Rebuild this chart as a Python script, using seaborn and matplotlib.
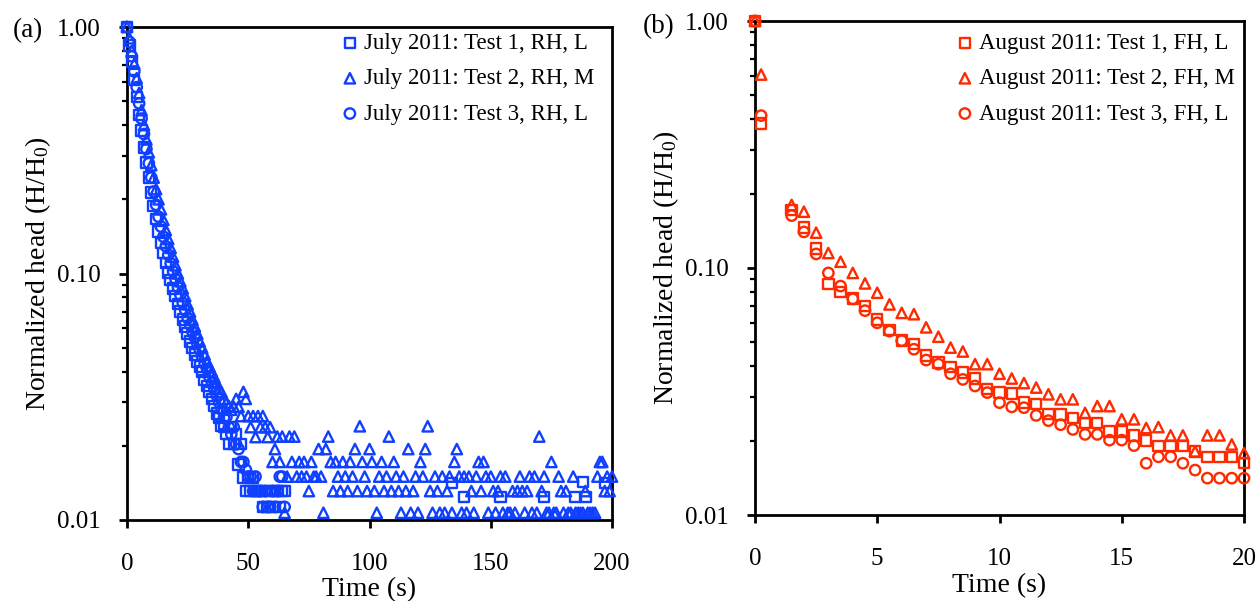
import numpy as np
import matplotlib
matplotlib.use("Agg")
import matplotlib.pyplot as plt
import seaborn as sns
from matplotlib.ticker import LogLocator, NullFormatter

sns.set_theme(style="ticks", rc={
    "axes.edgecolor": "black", "xtick.color": "black", "ytick.color": "black",
    "text.color": "black", "axes.labelcolor": "black",
})
plt.rcParams["font.family"] = ["Liberation Serif", "DejaVu Serif"]
plt.rcParams["mathtext.fontset"] = "custom"
plt.rcParams["mathtext.rm"] = "Liberation Serif"
plt.rcParams["mathtext.default"] = "regular"

BLUE = "#1040ff"
RED = "#ff2a00"

# ---------------- Panel (a): July 2011 ----------------
labels_a = ["July 2011: Test 1, RH, L", "July 2011: Test 2, RH, M", "July 2011: Test 3, RH, L"]

# Test 1 (squares), 1-s samples t = 0..65
a1_time = np.arange(0, 66)
a1_head = [1.000, 0.840, 0.720, 0.610, 0.520, 0.440, 0.380, 0.325, 0.282, 0.245,
           0.213, 0.188, 0.166, 0.148, 0.133, 0.121, 0.110, 0.101, 0.094, 0.087,
           0.081, 0.075, 0.070, 0.065, 0.061, 0.057, 0.053, 0.050, 0.047, 0.044,
           0.042, 0.040, 0.037, 0.035, 0.033, 0.031, 0.029, 0.027, 0.026, 0.024,
           0.0238, 0.0223, 0.0203, 0.0238, 0.0203, 0.0223, 0.0168, 0.0203, 0.0149, 0.0131,
           0.0149, 0.0131, 0.0149, 0.0131, 0.0131, 0.0131, 0.0113, 0.0131, 0.0113, 0.0131,
           0.0113, 0.0131, 0.0131, 0.0113, 0.0131, 0.0131]
# Test 1 late visible points
a1_tail_time = [134, 139, 154, 172, 185, 188, 189, 197]
a1_tail_head = [0.0141, 0.0124, 0.0124, 0.0124, 0.0124, 0.0143, 0.0124, 0.0141]

# Test 2 (triangles), 1-s samples t = 0..200
a2_time = np.arange(0, 201)
a2_head = [1.000, 0.900, 0.800, 0.710, 0.620, 0.540, 0.460, 0.400, 0.350, 0.310,
           0.275, 0.245, 0.220, 0.200, 0.182, 0.165, 0.150, 0.138, 0.127, 0.117,
           0.108, 0.100, 0.093, 0.087, 0.081, 0.075, 0.070, 0.065, 0.061, 0.057,
           0.053, 0.050, 0.047, 0.044, 0.042, 0.040, 0.038, 0.036, 0.034, 0.033,
           0.031, 0.030, 0.029, 0.028, 0.0288, 0.0310, 0.0288, 0.0264, 0.0331, 0.0310,
           0.0264, 0.0238, 0.0264, 0.0217, 0.0264, 0.0238, 0.0264, 0.0238, 0.0217, 0.0238,
           0.0172, 0.0194, 0.0218, 0.0172, 0.0218, 0.0107, 0.0150, 0.0218, 0.0172, 0.0218,
           0.0150, 0.0172, 0.0150, 0.0172, 0.0150, 0.0131, 0.0172, 0.0150, 0.0150, 0.0194,
           0.0150, 0.0107, 0.0194, 0.0218, 0.0172, 0.0131, 0.0172, 0.0150, 0.0131, 0.0172,
           0.0150, 0.0131, 0.0172, 0.0150, 0.0194, 0.0131, 0.0240, 0.0172, 0.0150, 0.0131,
           0.0194, 0.0172, 0.0131, 0.0107, 0.0150, 0.0172, 0.0131, 0.0150, 0.0218, 0.0131,
           0.0172, 0.0150, 0.0131, 0.0107, 0.0150, 0.0131, 0.0194, 0.0107, 0.0131, 0.0150,
           0.0107, 0.0172, 0.0150, 0.0194, 0.0240, 0.0131, 0.0107, 0.0150, 0.0131, 0.0107,
           0.0150, 0.0107, 0.0131, 0.0150, 0.0107, 0.0172, 0.0194, 0.0150, 0.0107, 0.0150,
           0.0107, 0.0150, 0.0131, 0.0107, 0.0150, 0.0172, 0.0131, 0.0172, 0.0150, 0.0107,
           0.0150, 0.0131, 0.0107, 0.0131, 0.0150, 0.0107, 0.0150, 0.0107, 0.0107, 0.0131,
           0.0107, 0.0131, 0.0150, 0.0131, 0.0107, 0.0131, 0.0150, 0.0107, 0.0150, 0.0107,
           0.0218, 0.0131, 0.0150, 0.0107, 0.0107, 0.0172, 0.0107, 0.0107, 0.0150, 0.0131,
           0.0107, 0.0131, 0.0107, 0.0107, 0.0150, 0.0107, 0.0107, 0.0107, 0.0107, 0.0131,
           0.0107, 0.0107, 0.0107, 0.0107, 0.0150, 0.0172, 0.0172, 0.0131, 0.0150, 0.0131,
           0.0150]

# Test 3 (circles), 1-s samples t = 0..65
a3_time = np.arange(0, 66)
a3_head = [1.000, 0.870, 0.760, 0.660, 0.570, 0.490, 0.425, 0.368, 0.320, 0.280,
           0.245, 0.215, 0.190, 0.170, 0.155, 0.141, 0.129, 0.119, 0.110, 0.102,
           0.095, 0.088, 0.082, 0.076, 0.071, 0.066, 0.062, 0.058, 0.055, 0.052,
           0.049, 0.046, 0.043, 0.041, 0.038, 0.036, 0.034, 0.032, 0.030, 0.028,
           0.026, 0.0262, 0.0238, 0.0223, 0.0238, 0.0203, 0.0194, 0.0172, 0.0172, 0.0160,
           0.0150, 0.0150, 0.0131, 0.0150, 0.0131, 0.0131, 0.0113, 0.0131, 0.0113, 0.0113,
           0.0131, 0.0113, 0.0131, 0.0150, 0.0150, 0.0113]

# ---------------- Panel (b): August 2011 ----------------
labels_b = ["August 2011: Test 1, FH, L", "August 2011: Test 2, FH, M", "August 2011: Test 3, FH, L"]
b_time = [0, 0.25, 1.5, 2.0, 2.5, 3.0, 3.5, 4.0, 4.5, 5.0, 5.5, 6.0, 6.5, 7.0, 7.5,
          8.0, 8.5, 9.0, 9.5, 10.0, 10.5, 11.0, 11.5, 12.0, 12.5, 13.0, 13.5, 14.0,
          14.5, 15.0, 15.5, 16.0, 16.5, 17.0, 17.5, 18.0, 18.5, 19.0, 19.5, 20.0]
b1_head = [1.0, 0.385, 0.172, 0.146, 0.120, 0.0860, 0.0799, 0.0752, 0.0700, 0.0619,
           0.0562, 0.0508, 0.0492, 0.0443, 0.0414, 0.0398, 0.0377, 0.0357, 0.0323, 0.0313,
           0.0310, 0.0285, 0.0282, 0.0257, 0.0255, 0.0247, 0.0236, 0.0236, 0.0218, 0.0218,
           0.0210, 0.0200, 0.0190, 0.0190, 0.0190, 0.0181, 0.0172, 0.0172, 0.0172, 0.0162]
b2_head = [1.0, 0.607, 0.180, 0.169, 0.139, 0.115, 0.106, 0.0955, 0.0866, 0.0794,
           0.0712, 0.0658, 0.0650, 0.0575, 0.0527, 0.0476, 0.0459, 0.0408, 0.0408, 0.0373,
           0.0357, 0.0342, 0.0328, 0.0308, 0.0294, 0.0294, 0.0259, 0.0276, 0.0276, 0.0244,
           0.0244, 0.0225, 0.0227, 0.0210, 0.0210, 0.0181, 0.0210, 0.0210, 0.0193, 0.0178]
b3_head = [1.0, 0.414, 0.163, 0.140, 0.114, 0.0955, 0.0845, 0.0750, 0.0672, 0.0600,
           0.0555, 0.0508, 0.0469, 0.0424, 0.0408, 0.0373, 0.0354, 0.0333, 0.0313, 0.0285,
           0.0274, 0.0272, 0.0253, 0.0241, 0.0232, 0.0222, 0.0212, 0.0212, 0.0201, 0.0201,
           0.0191, 0.0162, 0.0172, 0.0172, 0.0162, 0.0152, 0.0141, 0.0141, 0.0141, 0.0141]

x_ticks_a = [0, 50, 100, 150, 200]
x_ticks_b = [0, 5, 10, 15, 20]
y_ticks = [0.01, 0.1, 1.0]
y_ticklabels = ["0.01", "0.10", "1.00"]

W, H = 1260, 601
fig = plt.figure(figsize=(W / 100, H / 100), dpi=100)
ax_a = fig.add_axes([127 / W, 1 - 520 / H, 485 / W, 493 / H])
ax_b = fig.add_axes([755 / W, 1 - 515 / H, 489 / W, 494 / H])

MS = 56
LW = 1.7


def draw(ax, t, v, marker, color, label=None):
    sns.scatterplot(x=np.asarray(t, dtype=float), y=np.asarray(v, dtype=float), ax=ax,
                    marker=marker, s=MS, color=color, facecolor="none", edgecolor=color,
                    linewidth=LW, label=label, clip_on=False, legend=False, zorder=3)


draw(ax_a, a1_time, a1_head, "s", BLUE, labels_a[0])
draw(ax_a, a1_tail_time, a1_tail_head, "s", BLUE)
draw(ax_a, a2_time, a2_head, "^", BLUE, labels_a[1])
draw(ax_a, a3_time, a3_head, "o", BLUE, labels_a[2])

draw(ax_b, b_time, b1_head, "s", RED, labels_b[0])
draw(ax_b, b_time, b2_head, "^", RED, labels_b[1])
draw(ax_b, b_time, b3_head, "o", RED, labels_b[2])

for ax, xt, xmax in [(ax_a, x_ticks_a, 200), (ax_b, x_ticks_b, 20)]:
    ax.set_yscale("log")
    ax.set_ylim(0.01, 1.0)
    ax.set_xlim(0, xmax)
    ax.set_xticks(xt)
    ax.set_xticklabels([str(v) for v in xt])
    ax.set_yticks(y_ticks)
    ax.set_yticklabels(y_ticklabels)
    ax.yaxis.set_minor_locator(LogLocator(base=10, subs=np.arange(2, 10)))
    ax.yaxis.set_minor_formatter(NullFormatter())
    ax.xaxis.set_minor_locator(plt.NullLocator())
    for s in ax.spines.values():
        s.set_visible(True)
        s.set_linewidth(2.0)
        s.set_color("black")
    ax.tick_params(axis="both", which="major", direction="out", length=6, width=2,
                   labelsize=18, color="black", left=True, bottom=True, top=False, right=False)
    ax.tick_params(axis="y", which="major", pad=13)
    ax.tick_params(axis="x", which="major", pad=18)
    ax.tick_params(axis="y", which="minor", direction="out", length=3.5, width=1.6, left=True)
    ax.set_xlabel("Time (s)", fontsize=20)
    ax.xaxis.set_label_coords(0.5, -70 / 493)
    ax.xaxis.label.set_va("center")
    ax.set_ylabel("Normalized head (H/H$_0$)", fontsize=20)
    ax.yaxis.set_label_coords(-0.152, 0.5)
    ax.grid(False)

leg_kw = dict(loc="upper left", frameon=False, fontsize=16.5, handlelength=0.6,
              handletextpad=0.3, labelspacing=0.62, borderpad=0, borderaxespad=0,
              scatterpoints=1, bbox_transform=fig.transFigure)
ax_a.legend(bbox_to_anchor=(343 / W, 1 - 33 / H), **leg_kw)
ax_b.legend(bbox_to_anchor=(958 / W, 1 - 33 / H), **leg_kw)

fig.text(13 / W, 1 - 31 / H, "(a)", fontsize=19.5, va="center", ha="left")
fig.text(643 / W, 1 - 27 / H, "(b)", fontsize=19.5, va="center", ha="left")

fig.savefig("out.png", dpi=100)
